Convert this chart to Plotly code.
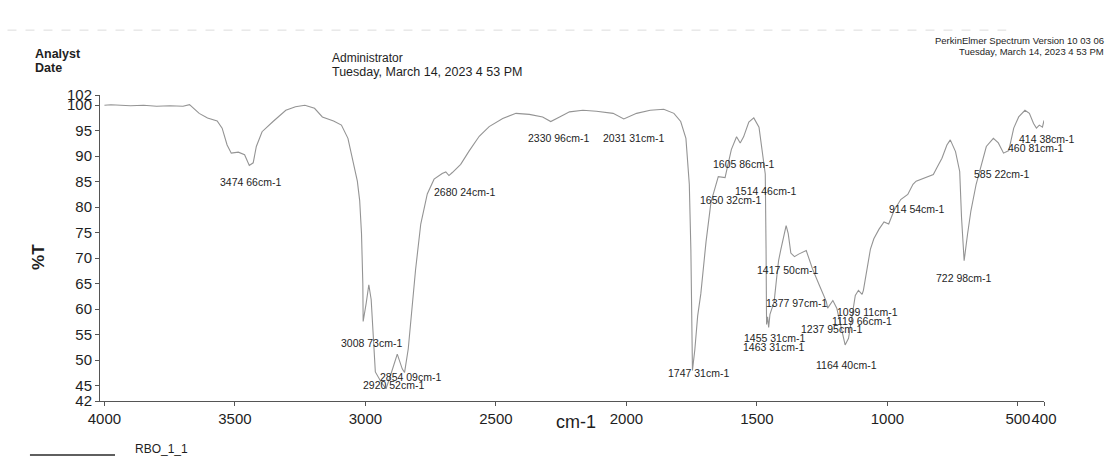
import plotly.graph_objects as go

# ---------------- data ----------------
wavenumber = [4000, 3975, 3900, 3850, 3800, 3749, 3699, 3674, 3637, 3605, 3568, 3549, 3530, 3514,
              3487, 3463, 3445, 3430, 3418, 3396, 3354, 3305, 3268, 3232, 3195, 3165, 3122, 3092,
              3067, 3049, 3031, 3022, 3015, 3010, 3008.7, 2997, 2987, 2978, 2970, 2962, 2936, 2921,
              2904, 2878, 2859, 2850, 2836, 2823, 2808, 2788, 2763, 2737, 2706, 2692, 2680, 2667,
              2635, 2603, 2564, 2526, 2474, 2423, 2372, 2321, 2290, 2256, 2218, 2167, 2115, 2051,
              2010, 1961, 1909, 1857, 1818, 1792, 1772, 1759, 1753, 1747, 1738, 1727, 1715, 1695,
              1676, 1648, 1622, 1598, 1578, 1564, 1551, 1531, 1512, 1492, 1482, 1473, 1468, 1465,
              1463, 1459, 1455, 1450, 1434, 1422, 1417, 1408, 1395, 1388, 1380, 1370, 1356, 1340,
              1311, 1287, 1260, 1234, 1229, 1209, 1194, 1175, 1162, 1149, 1136, 1123, 1111, 1097,
              1092, 1078, 1065, 1052, 1032, 1013, 995, 975, 949, 922, 902, 890, 857, 824, 811, 791,
              772, 759, 739, 723, 716, 706, 693, 680, 660, 641, 621, 594, 575, 555, 535, 516, 497,
              473, 456, 440, 429, 418, 406, 400]

transmittance = [100.0, 100.1, 99.9, 100.0, 99.8, 99.9, 99.8, 100.1, 98.4, 97.5, 96.9, 95.5, 92.2, 90.6,
                 90.8, 90.3, 88.2, 88.7, 91.9, 94.8, 96.8, 99.0, 99.7, 100.0, 99.4, 97.7, 96.9, 96.1,
                 93.5, 89.0, 85.1, 81.3, 74.8, 65.1, 57.6, 61.2, 64.8, 61.9, 54.8, 47.7, 45.4, 44.4,
                 47.0, 51.2, 48.3, 47.6, 52.2, 59.3, 67.7, 76.7, 82.6, 85.5, 86.6, 86.9, 86.2, 86.8,
                 88.4, 91.0, 93.9, 95.8, 97.4, 98.4, 98.2, 97.7, 96.8, 97.7, 98.7, 99.0, 98.8, 98.4,
                 97.3, 98.4, 99.0, 99.2, 98.4, 96.8, 93.5, 84.5, 71.6, 48.0, 52.0, 58.7, 63.0, 73.2,
                 81.0, 86.0, 85.8, 91.3, 93.8, 92.6, 93.8, 96.7, 97.5, 95.7, 91.8, 87.8, 86.5, 72.0,
                 57.0, 58.5, 56.4, 59.0, 61.5, 67.3, 69.5, 71.8, 75.2, 76.4, 74.8, 71.0, 70.3, 70.8,
                 71.5, 67.9, 64.6, 61.5, 60.2, 61.7, 60.2, 55.7, 53.0, 54.3, 58.2, 62.7, 63.7, 62.9,
                 63.7, 67.9, 71.8, 73.8, 75.7, 77.1, 76.7, 79.3, 81.5, 82.5, 84.5, 85.1, 85.8, 86.4, 87.7, 89.6,
                 92.2, 93.2, 90.9, 87.0, 78.0, 69.5, 74.7, 79.3, 84.5, 88.3, 91.9, 93.5, 92.6, 90.6, 91.1, 95.5, 97.7,
                 99.0, 98.4, 96.4, 95.5, 96.1, 95.7, 97.0]

peak_labels = ["3474 66cm-1", "3008 73cm-1", "2854 09cm-1", "2920 52cm-1", "2680 24cm-1",
               "2330 96cm-1", "2031 31cm-1", "1747 31cm-1", "1605 86cm-1", "1514 46cm-1",
               "1650 32cm-1", "1417 50cm-1", "1377 97cm-1", "1455 31cm-1", "1463 31cm-1",
               "1237 95cm-1", "1119 66cm-1", "1099 11cm-1", "1164 40cm-1", "914 54cm-1",
               "722 98cm-1", "585 22cm-1", "460 81cm-1", "414 38cm-1"]

x_tick_values = [4000, 3500, 3000, 2500, 2000, 1500, 1000, 500, 400]
y_tick_values = [42, 45, 50, 55, 60, 65, 70, 75, 80, 85, 90, 95, 100, 102]

# ---------------- layout helpers ----------------
X_RANGE = [4017, 400]
Y_RANGE = [42, 102]

# where each peak label sits (in axis units: wavenumber, %T)
label_places = [(3440, 85.0), (2976, 53.3), (2827, 46.65), (2893, 45.14), (2620, 83.0),
                (2261, 93.5), (1971, 93.5), (1722, 47.5), (1552, 88.4), (1468, 83.2),
                (1601, 81.4), (1384, 67.7), (1348, 61.2), (1431, 54.3), (1437, 52.5),
                (1214, 56.1), (1099, 57.75), (1077, 59.4), (1156, 49.1), (886, 79.65),
                (707, 66.2), (560, 86.5), (432, 91.7), (387, 93.4)]


def to_paper(wn, t):
    px = (X_RANGE[0] - wn) / (X_RANGE[0] - X_RANGE[1])
    py = (t - Y_RANGE[0]) / (Y_RANGE[1] - Y_RANGE[0])
    return px, py


FONT = "Liberation Sans, Arial, sans-serif"
TXT = "#1e1e1e"

fig = go.Figure()
fig.add_trace(go.Scatter(x=wavenumber, y=transmittance, mode="lines",
                         line=dict(color="#949494", width=1.1), showlegend=False,
                         hoverinfo="skip"))

annotations = []
for text, (wn, t) in zip(peak_labels, label_places):
    px, py = to_paper(wn, t)
    annotations.append(dict(x=px, y=py, xref="paper", yref="paper", text=text,
                            showarrow=False, xanchor="center", yanchor="middle",
                            font=dict(family=FONT, size=10.5, color=TXT)))

# header texts
header = [
    ("<b>Analyst</b>", -0.071, 1.134, 12.5, "left"),
    ("<b>Date</b>", -0.071, 1.088, 12.5, "left"),
    ("Administrator", 0.2436, 1.121, 12, "left"),
    ("Tuesday, March 14, 2023 4 53 PM", 0.2436, 1.075, 12.5, "left"),
    ("PerkinElmer Spectrum Version 10 03 06", 1.0657, 1.178, 9.5, "right"),
    ("Tuesday, March 14, 2023 4 53 PM", 1.0657, 1.141, 9.5, "right"),
    ("RBO_1_1", 0.035, -0.157, 12, "left"),
]
for text, x, y, size, anchor in header:
    annotations.append(dict(x=x, y=y, xref="paper", yref="paper", text=text, showarrow=False,
                            xanchor=anchor, yanchor="middle",
                            font=dict(family=FONT, size=size, color=TXT)))

# axis titles
annotations.append(dict(x=0.504, y=-0.07, xref="paper", yref="paper", text="cm-1",
                        showarrow=False, xanchor="center", yanchor="middle",
                        font=dict(family=FONT, size=18, color=TXT)))
annotations.append(dict(x=-0.066, y=0.47, xref="paper", yref="paper", text="<b>%T</b>",
                        showarrow=False, xanchor="center", yanchor="middle", textangle=-90,
                        font=dict(family=FONT, size=17, color=TXT)))

shapes = [
    # legend sample line
    dict(type="line", xref="paper", yref="paper", x0=-0.0742, x1=0.0159, y0=-0.1765, y1=-0.1765,
         line=dict(color="#2a2a2a", width=1.5)),
    # faint page rule at the top
    dict(type="line", xref="paper", yref="paper", x0=-0.098, x1=0.96, y0=1.212, y1=1.212,
         line=dict(color="#dcdcdc", width=1, dash="dash")),
]

fig.update_layout(
    width=1109, height=458,
    margin=dict(l=100, r=65, t=95, b=57),
    paper_bgcolor="white", plot_bgcolor="white",
    annotations=annotations, shapes=shapes,
    font=dict(family=FONT, color=TXT),
)
fig.update_xaxes(range=X_RANGE, tickvals=x_tick_values,
                 ticktext=[str(v) for v in x_tick_values], tickangle=0,
                 showgrid=False, zeroline=False, showline=True, linecolor="#555", linewidth=1,
                 ticks="outside", ticklen=4, tickcolor="#555",
                 tickfont=dict(family=FONT, size=15, color=TXT))
fig.update_yaxes(range=Y_RANGE, tickvals=y_tick_values,
                 showgrid=False, zeroline=False, showline=True, linecolor="#555", linewidth=1,
                 ticks="outside", ticklen=4, tickcolor="#555",
                 tickfont=dict(family=FONT, size=15, color=TXT))

fig.write_html("out.html")
